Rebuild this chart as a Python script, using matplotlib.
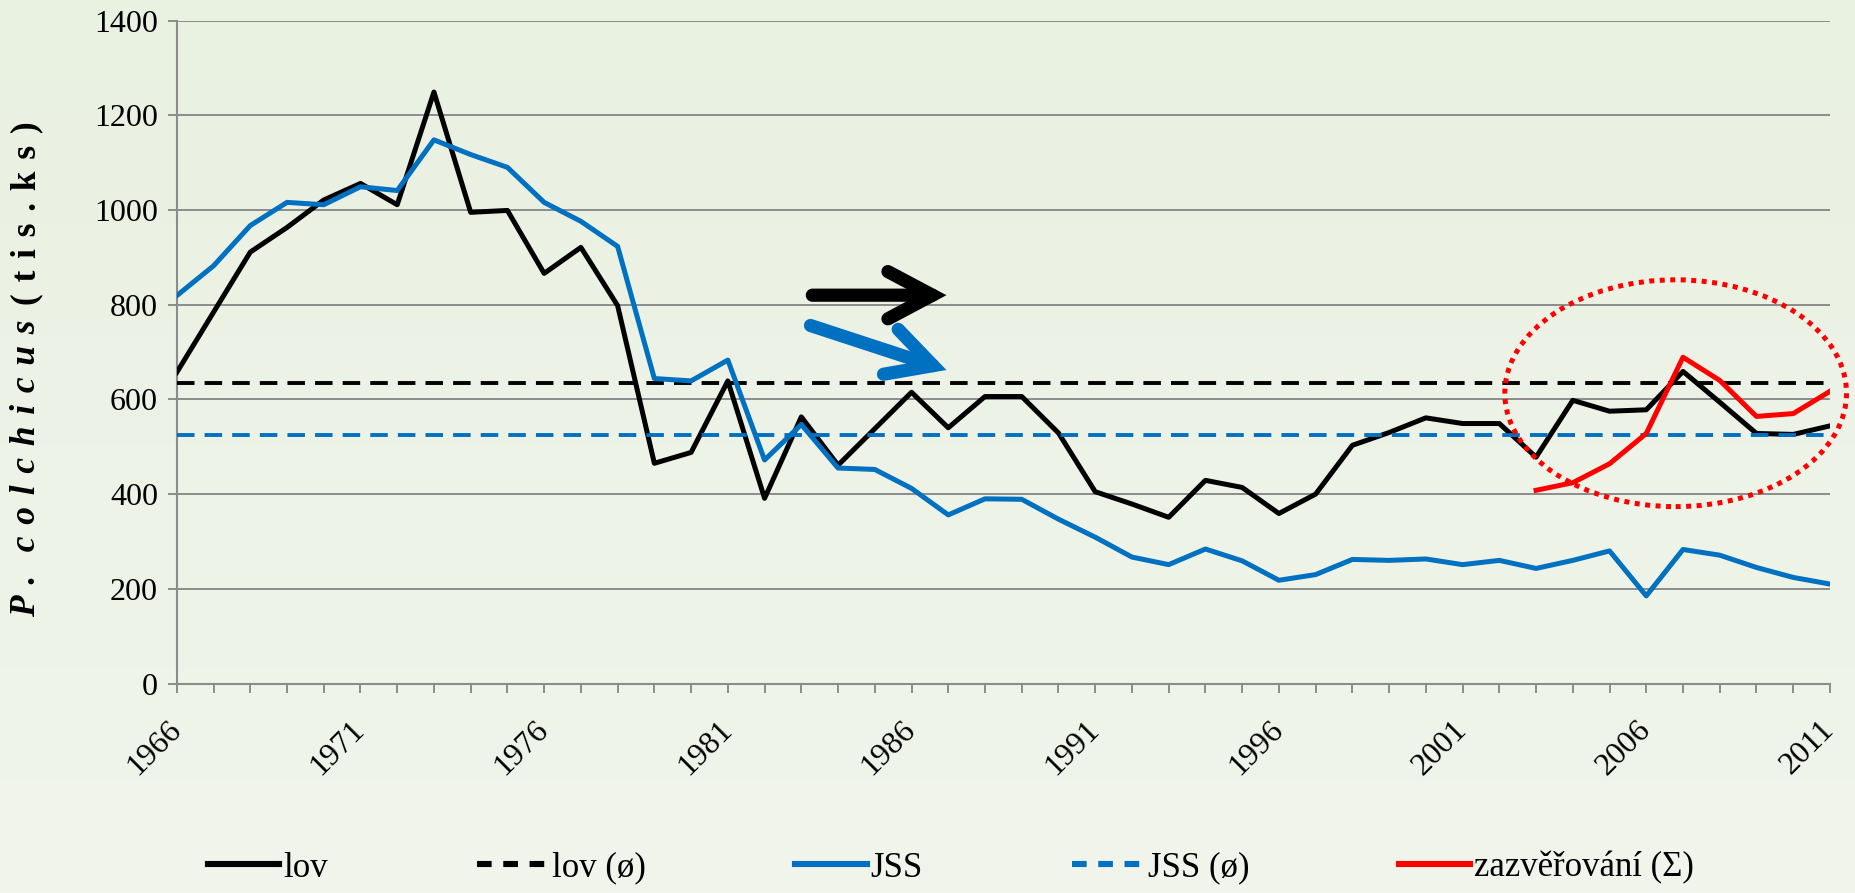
import numpy as np
import matplotlib.pyplot as plt
from matplotlib.patches import Ellipse, FancyArrowPatch, ArrowStyle
from matplotlib.ticker import FixedLocator, MultipleLocator

plt.rcParams['font.family'] = ['Liberation Serif', 'DejaVu Serif']
plt.rcParams['font.size'] = 23

# data (thousands of pheasants)
years = np.arange(1966, 2012)
lov = [657, 784, 911, 963, 1021, 1056, 1011, 1249, 995, 999,
       866, 921, 798, 465, 488, 639, 391, 563, 461, 538,
       615, 540, 606, 606, 529, 405, 379, 351, 429, 414,
       359, 400, 503, 530, 561, 549, 549, 478, 598, 575,
       578, 659, 594, 528, 526, 544]
jss = [819, 882, 967, 1016, 1011, 1049, 1041, 1148, 1117, 1090,
       1016, 976, 923, 644, 639, 683, 472, 547, 455, 452,
       412, 356, 390, 389, 347, 309, 267, 251, 284, 259,
       218, 230, 262, 260, 263, 251, 260, 243, 260, 280,
       185, 283, 271, 245, 224, 210]
zaz_years = np.arange(2003, 2012)
zaz = [408, 424, 464, 528, 689, 640, 564, 570, 617]

# trend arrows (start, end) and highlight ellipse (data coords)
arrow_lov = [(1983.3, 820), (1986.95, 820)]
arrow_jss = [(1983.25, 756), (1986.95, 662)]
ell_center = (2006.8, 613)
ell_size = (9.3, 479)

BLACK = '#000000'
BLUE = '#0070C0'
RED = '#FF0000'
GRID = '#8C8C8C'

fig = plt.figure(figsize=(18.55, 8.93), dpi=100)

# soft vertical gradient background
bg = fig.add_axes([0, 0, 1, 1], zorder=-10)
grad = np.linspace(0, 1, 256).reshape(-1, 1)
top = np.array([233, 241, 225]) / 255
bot = np.array([241, 245, 236]) / 255
img = top + (bot - top) * grad[:, :, None]
bg.imshow(img, aspect='auto', extent=[0, 1, 0, 1])
bg.axis('off')

ax = fig.add_axes([0.0953, 0.2346, 0.8912, 0.7424])
ax.set_facecolor('none')

ax.plot(years, lov, color=BLACK, lw=3.6, label='lov', zorder=3)
ax.plot(years, np.full(len(years), np.mean(lov)), color=BLACK, lw=2.8,
        dashes=(4.5, 2.6), label='lov (ø)', zorder=3)
ax.plot(years, jss, color=BLUE, lw=3.6, label='JSS', zorder=3)
ax.plot(years, np.full(len(years), np.mean(jss)), color=BLUE, lw=2.8,
        dashes=(4.5, 2.6), label='JSS (ø)', zorder=3)
ax.plot(zaz_years, zaz, color=RED, lw=3.6, label='zazvěřování (Σ)', zorder=4)

# dotted ellipse around the recent period
ax.add_patch(Ellipse(ell_center, ell_size[0], ell_size[1], fill=False,
                     edgecolor=RED, lw=3.6, linestyle=(0, (1, 1.1)),
                     clip_on=False, zorder=5))

# trend arrows
for (p0, p1), col in [(arrow_lov, BLACK), (arrow_jss, BLUE)]:
    arr = FancyArrowPatch(p0, p1, arrowstyle=ArrowStyle('->', head_length=32, head_width=17),
                          mutation_scale=1, lw=9.5, color=col, shrinkA=0, shrinkB=0,
                          capstyle='round', joinstyle='miter', zorder=6)
    ax.add_patch(arr)

ax.set_xlim(1966, 2011)
ax.set_ylim(0, 1400)
ax.yaxis.set_major_locator(MultipleLocator(200))
ax.xaxis.set_major_locator(FixedLocator(list(range(1966, 2012, 5))))
ax.xaxis.set_minor_locator(MultipleLocator(1))
ax.grid(axis='y', color=GRID, lw=1.4, zorder=0)

for side in ['top', 'right']:
    ax.spines[side].set_visible(False)
for side in ['left', 'bottom']:
    ax.spines[side].set_color(GRID)
    ax.spines[side].set_linewidth(1.5)

ax.tick_params(axis='both', which='both', direction='out', color=GRID, width=1.4, length=6.5)
ax.tick_params(axis='y', pad=7)
ax.tick_params(axis='x', which='major', pad=24)
plt.setp(ax.get_xticklabels(), rotation=45, ha='right', va='center', rotation_mode='anchor')

# y label: italic species name + upright unit, letter spaced
sp = '\u2004'
fig.text(0.0145, 0.642, sp.join('P.') + sp * 2 + sp.join('colchicus'), rotation=90,
         fontsize=25.5, fontweight='bold', fontstyle='italic', ha='right', va='center',
         rotation_mode='anchor')
fig.text(0.0145, 0.658, sp.join('(tis.ks)'), rotation=90, fontsize=25.5,
         fontweight='bold', ha='left', va='center', rotation_mode='anchor')

leg = fig.legend(loc='center', bbox_to_anchor=(0.5125, 0.028), ncol=5, frameon=False,
                 handlelength=2.05, handletextpad=0.12, columnspacing=4.3, fontsize=25)
for line in leg.get_lines():
    line.set_linewidth(4.4)
    if line.get_label().endswith('(ø)'):
        line.set_dashes((2.4, 1.9))

fig.savefig('out.png', dpi=100)
